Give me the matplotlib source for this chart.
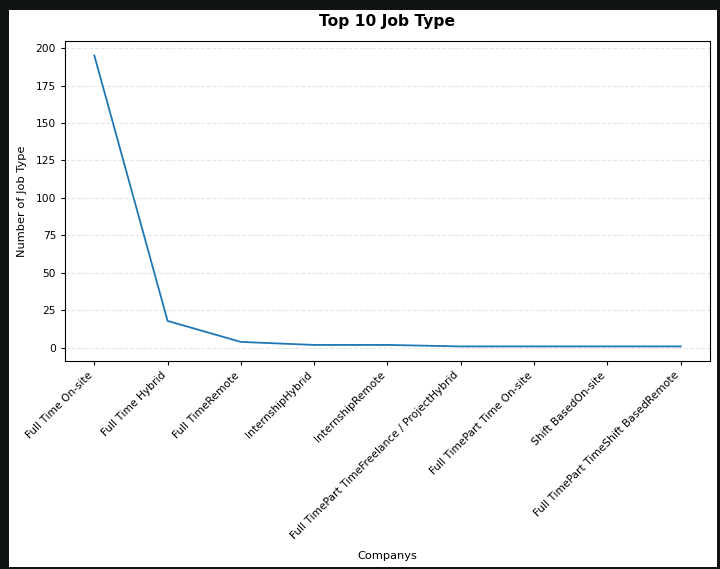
import matplotlib.pyplot as plt
from matplotlib.patches import Rectangle

job_types = ['Full Time On-site', 'Full Time Hybrid', 'Full TimeRemote',
             'InternshipHybrid', 'InternshipRemote',
             'Full TimePart TimeFreelance / ProjectHybrid',
             'Full TimePart Time On-site', 'Shift BasedOn-site',
             'Full TimePart TimeShift BasedRemote']
counts = [195, 18, 4, 2, 2, 1, 1, 1, 1]

fig = plt.figure(figsize=(7.2, 5.69), dpi=100, facecolor='#111414')
# white page inside the dark screenshot frame
fig.patches.append(Rectangle((9 / 720, 2 / 569), 708 / 720, 557 / 569,
                             transform=fig.transFigure, facecolor='white',
                             edgecolor='none', zorder=-1))

ax = fig.add_axes([0.0903, 0.3656, 0.8957, 0.5624])
ax.plot(job_types, counts, color='#1f77b4', linewidth=1.3)
ax.grid(axis='y', linestyle='--', alpha=0.3)
ax.set_title('Top 10 Job Type', fontsize=11.2, fontweight='bold', pad=11)
ax.set_xlabel('Companys', fontsize=8.2, labelpad=7)
ax.set_ylabel('Number of Job Type', fontsize=8.2, labelpad=6)
ax.tick_params(labelsize=7.7, length=3)
plt.setp(ax.get_xticklabels(), rotation=45, ha='right')

fig.savefig('out.png', dpi=100, facecolor=fig.get_facecolor())
